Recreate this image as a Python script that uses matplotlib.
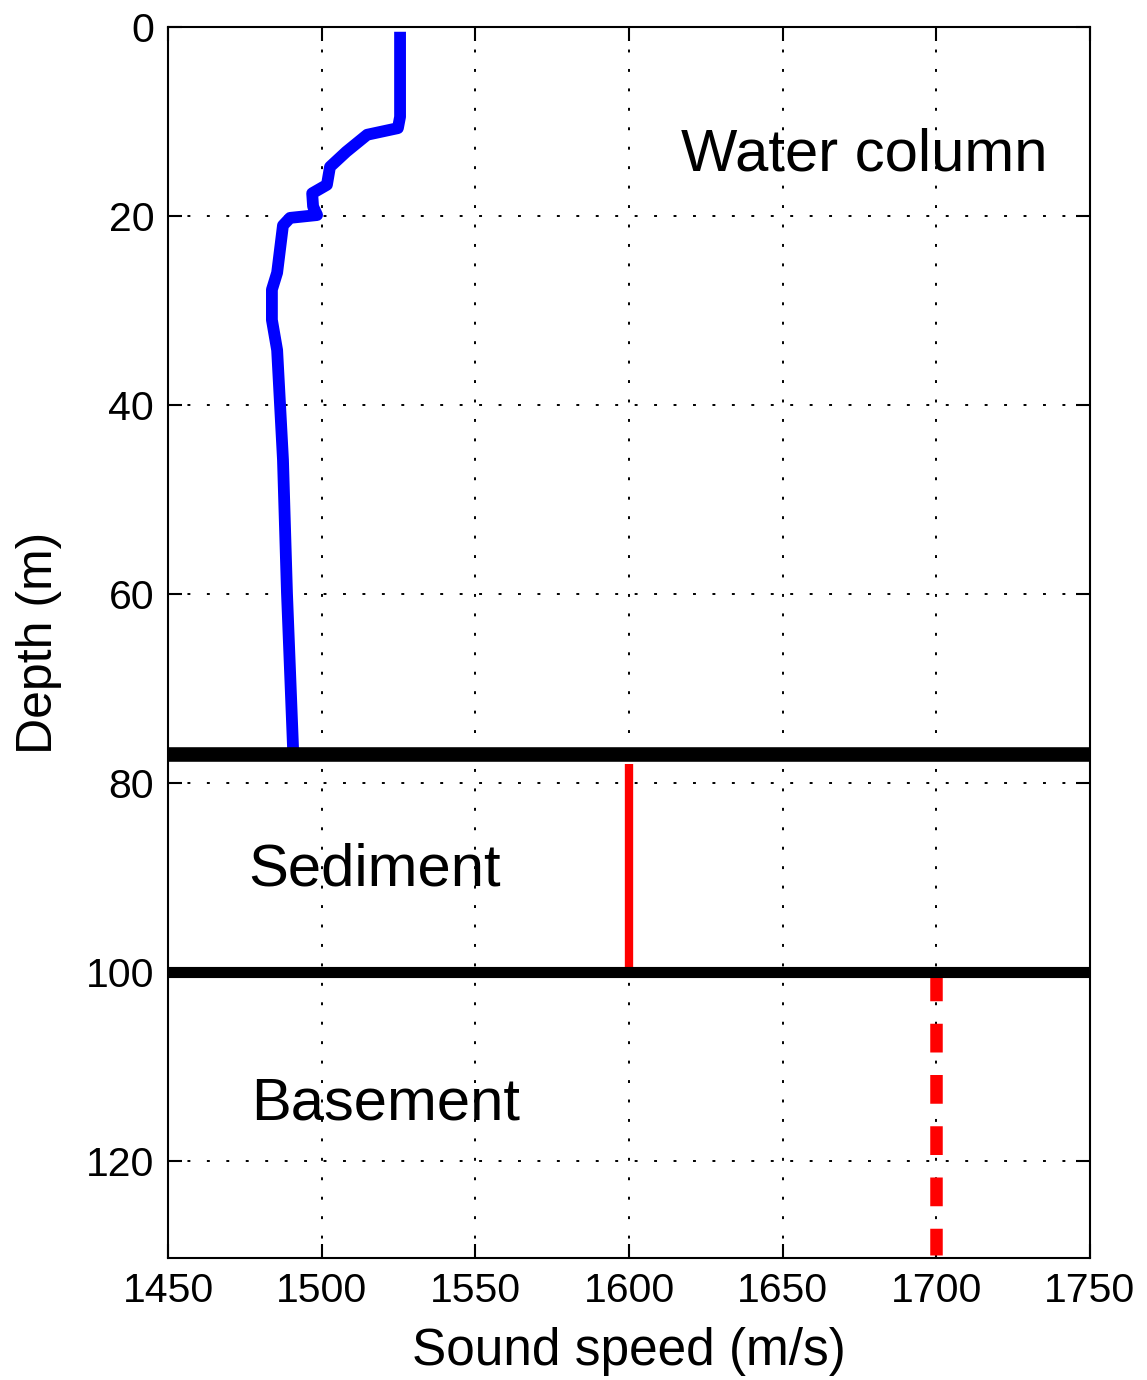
import numpy as np
import matplotlib.pyplot as plt

plt.rcParams['font.family'] = ['Liberation Sans', 'DejaVu Sans']

# water-column sound speed profile
water_depth = [0.5, 9.5, 10.7, 11.4, 13.2, 14.8, 16.7, 17.6, 19.0, 19.9, 20.2, 21.0,
               26.0, 27.8, 31.0, 34.2, 45.8, 59.9, 76.5]
water_speed = [1525.5, 1525.5, 1524.8, 1514.8, 1508.0, 1502.7, 1501.7, 1496.9, 1497.2,
               1498.5, 1489.7, 1487.4, 1485.5, 1483.8, 1483.8, 1485.5, 1487.4, 1488.7, 1490.7]

# layer interfaces
interfaces = [77, 100]
sediment_speed = 1600
sediment_depth = [78, 100]
basement_speed = 1700
basement_depth = [100, 130]

fig = plt.figure(figsize=(11.47, 13.8), dpi=100)
ax = fig.add_axes([0.1465, 0.0884, 0.8038, 0.892])

ax.plot(water_speed, water_depth, color='#0000ff', lw=8.5, solid_capstyle='butt',
        solid_joinstyle='round', zorder=3)
ax.plot([sediment_speed] * 2, sediment_depth, color='#ff0000', lw=6, solid_capstyle='butt', zorder=3)
ax.plot([basement_speed] * 2, basement_depth, color='#ff0000', lw=9,
        linestyle=(0, (2.3, 1.8)), dash_capstyle='butt', zorder=3)
ax.axhline(interfaces[0], color='black', lw=10.5, zorder=4)
ax.axhline(interfaces[1], color='black', lw=8, zorder=4)

ax.text(1617, 13.5, 'Water column', fontsize=43, va='center', ha='left')
ax.text(1476, 89.2, 'Sediment', fontsize=43, va='center', ha='left')
ax.text(1477, 114, 'Basement', fontsize=43, va='center', ha='left')

ax.set_xlim(1450, 1750)
ax.set_ylim(130.3, 0)
ax.set_xticks(np.arange(1450, 1751, 50))
ax.set_yticks(np.arange(0, 121, 20))
ax.grid(True, color='black', lw=1.4, linestyle=(0, (1.5, 8.5)))
ax.tick_params(direction='in', length=10, width=1.5, labelsize=29.5,
               top=True, right=True, pad=10)
for s in ax.spines.values():
    s.set_linewidth(1.5)

ax.set_xlabel('Sound speed (m/s)', fontsize=37, labelpad=12)
ax.set_ylabel('Depth (m)', fontsize=36, labelpad=17)

fig.savefig('out.png', dpi=100)
